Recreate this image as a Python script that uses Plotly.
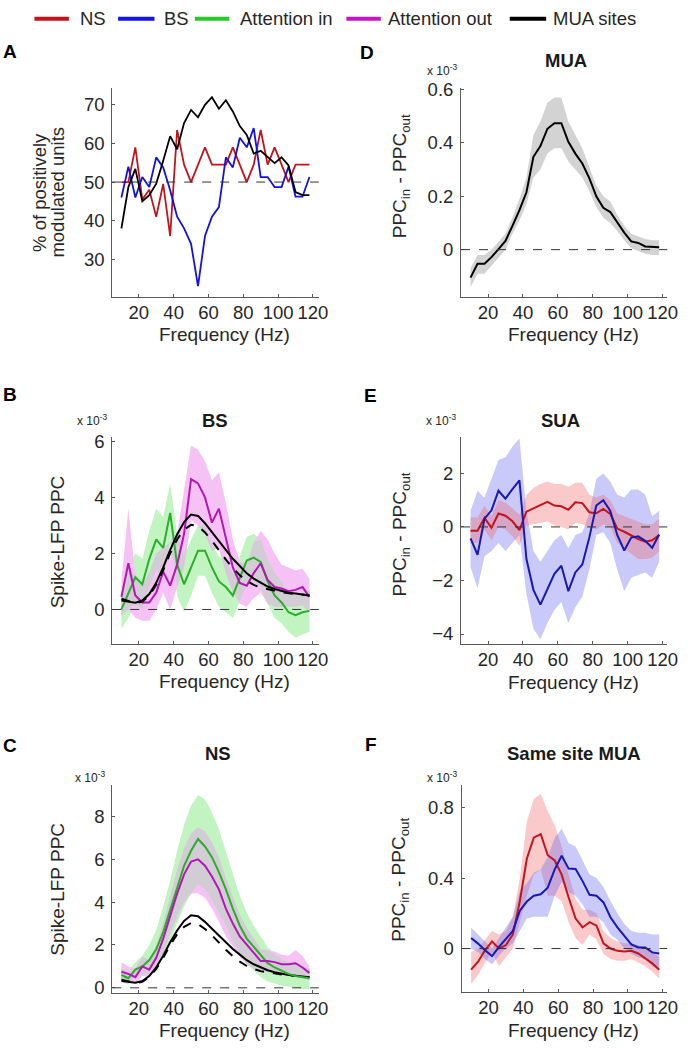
import plotly.graph_objects as go

W, H = 691, 1049
FONT = "Liberation Sans, Arial, sans-serif"

# ---------------- data ----------------
freq = [10, 14, 18, 22, 26, 30, 34, 38, 42, 46, 50, 54, 58, 62, 66, 70, 74, 78,
        82, 86, 90, 94, 98, 102, 106, 110, 114, 118]

# Panel A: % of positively modulated units
a_ns = [50, 50, 59, 45.5, 48, 41, 49.5, 36, 63.5, 54.5, 50, 54.5, 59, 54.5, 54.5, 54.5,
        59, 54.5, 50, 54.5, 63.5, 54.5, 59, 54.5, 50, 54.5, 54.5, 54.5]
a_bs = [46, 54, 46, 51.3, 48.7, 56.4, 53.8, 47.9, 41, 38, 34, 23, 36, 41, 43.5, 56.4,
        53.8, 61.5, 59, 64, 51.3, 51.3, 48.7, 48.7, 54, 46.2, 46.2, 51.3]
a_mua = [38, 48.7, 53.4, 45, 46.6, 49.6, 55.5, 61.9, 58.5, 65.3, 68.7, 66.8, 70, 72, 69,
         71.2, 68.3, 64.5, 62.2, 57.4, 58.1, 56.5, 54.9, 56.4, 54.3, 47.4, 46.6, 46.6]

# MUA-site PPC (x 10^-3), shown in B and C
mua_in = [0.32, 0.27, 0.24, 0.32, 0.55, 0.95, 1.5, 2.13, 2.68, 3.12, 3.39, 3.34, 3.08, 2.76,
          2.44, 2.13, 1.81, 1.55, 1.29, 1.1, 0.95, 0.82, 0.73, 0.66, 0.6, 0.57, 0.54, 0.5]
mua_out = [0.38, 0.3, 0.22, 0.28, 0.5, 0.88, 1.4, 2.0, 2.5, 2.85, 3.02, 2.98, 2.75, 2.45,
           2.1, 1.78, 1.48, 1.22, 1.02, 0.88, 0.78, 0.72, 0.67, 0.62, 0.58, 0.55, 0.52, 0.5]

# Panel B: BS spike-LFP PPC (x 10^-3)
b_in = [0.0, 0.6, 1.15, 0.9, 1.8, 2.5, 2.2, 3.45, 1.6, 0.9, 1.5, 2.1, 2.1, 1.5, 1.0, 0.8,
        0.5, 1.1, 1.75, 1.85, 1.7, 1.0, 0.5, 0.25, -0.1, -0.2, -0.1, -0.05]
b_in_up = [0.6, 1.5, 2.0, 1.8, 2.8, 3.6, 3.3, 4.5, 2.7, 1.9, 2.5, 3.0, 3.0, 2.3, 1.9, 1.7,
           1.3, 1.9, 2.6, 2.7, 2.5, 1.8, 1.3, 1.0, 0.6, 0.5, 0.6, 0.7]
b_in_lo = [-0.7, -0.3, 0.2, 0.0, 0.8, 1.4, 1.1, 2.4, 0.5, -0.1, 0.5, 1.2, 1.2, 0.6, 0.1, -0.1,
           -0.3, 0.3, 0.9, 1.0, 0.8, 0.2, -0.3, -0.5, -0.8, -1.0, -0.9, -0.8]
b_out = [0.45, 1.65, 0.5, 0.25, 0.25, 0.6, 1.35, 0.85, 1.6, 2.7, 4.65, 4.5, 4.0, 3.1, 3.6,
         2.6, 1.5, 0.95, 0.85, 1.3, 1.65, 1.05, 0.8, 0.75, 0.65, 0.7, 0.8, 0.45]
b_out_up = [1.0, 3.6, 1.2, 0.9, 1.3, 2.0, 2.2, 1.8, 2.7, 4.3, 5.85, 5.7, 5.3, 4.6, 4.9, 3.8,
            2.5, 1.7, 1.6, 2.4, 2.8, 2.5, 2.0, 1.6, 1.5, 1.4, 1.45, 1.1]
b_out_lo = [-0.2, 0.0, -0.3, -0.4, -0.4, 0.0, 0.6, 0.0, 0.8, 1.5, 3.2, 3.0, 2.7, 2.1, 2.2,
            1.3, 0.6, 0.2, 0.1, 0.4, 0.6, 0.2, 0.1, 0.1, 0.1, 0.1, 0.15, -0.1]

# Panel C: NS spike-LFP PPC (x 10^-3)
c_in = [0.6, 0.45, 0.85, 1.0, 1.3, 1.8, 2.6, 3.6, 4.7, 5.7, 6.4, 6.95, 6.6, 6.1, 5.4, 4.6,
        3.7, 2.9, 2.3, 1.9, 1.5, 1.15, 0.95, 0.8, 0.65, 0.55, 0.5, 0.45]
c_in_up = [0.9, 0.8, 1.2, 1.5, 2.0, 2.7, 3.8, 5.0, 6.4, 7.6, 8.5, 9.0, 8.8, 8.2, 7.4, 6.4,
           5.3, 4.3, 3.5, 2.9, 2.4, 1.9, 1.6, 1.35, 1.2, 1.1, 1.0, 0.9]
c_in_lo = [0.3, 0.15, 0.5, 0.6, 0.7, 1.0, 1.5, 2.2, 3.0, 3.8, 4.4, 4.85, 4.6, 4.1, 3.5, 2.9,
           2.2, 1.6, 1.1, 0.8, 0.5, 0.3, 0.2, 0.1, 0.05, 0.0, -0.05, -0.05]
c_out = [0.75, 0.65, 0.5, 1.0, 0.85, 1.4, 2.3, 3.4, 4.4, 5.3, 5.9, 6.0, 5.7, 5.2, 4.6, 3.7,
         3.0, 2.4, 2.0, 1.6, 1.25, 1.25, 1.2, 1.1, 1.1, 1.15, 0.95, 0.7]
c_out_up = [1.2, 1.0, 0.9, 1.45, 1.3, 2.0, 3.0, 4.3, 5.5, 6.5, 7.2, 7.5, 7.3, 6.8, 6.1, 5.1,
            4.2, 3.4, 2.8, 2.3, 1.8, 1.75, 1.7, 1.55, 1.5, 1.75, 1.5, 1.0]
c_out_lo = [0.4, 0.3, 0.2, 0.55, 0.5, 0.9, 1.6, 2.5, 3.3, 4.0, 4.4, 4.4, 4.2, 3.7, 3.1, 2.4,
            1.9, 1.45, 1.1, 0.9, 0.7, 0.75, 0.7, 0.65, 0.7, 0.65, 0.45, 0.35]

# Panel D: MUA PPC_in - PPC_out (x 10^-3)
d_mua = [-0.105, -0.053, -0.053, -0.028, 0.002, 0.033, 0.089, 0.148, 0.215, 0.348, 0.388,
         0.453, 0.474, 0.474, 0.404, 0.36, 0.323, 0.268, 0.2, 0.157, 0.141, 0.101, 0.064,
         0.031, 0.025, 0.012, 0.01, 0.009]
d_up = [-0.07, -0.02, -0.02, 0.0, 0.03, 0.06, 0.12, 0.19, 0.27, 0.43, 0.48, 0.55, 0.57,
        0.57, 0.48, 0.43, 0.38, 0.31, 0.24, 0.2, 0.18, 0.13, 0.09, 0.06, 0.05, 0.04, 0.035, 0.035]
d_lo = [-0.14, -0.09, -0.09, -0.06, -0.03, 0.0, 0.06, 0.11, 0.17, 0.27, 0.3, 0.36, 0.38,
        0.38, 0.33, 0.3, 0.27, 0.22, 0.16, 0.12, 0.1, 0.07, 0.035, 0.005, -0.005, -0.015,
        -0.02, -0.02]

# Panel E: SUA PPC_in - PPC_out (x 10^-3)
e_ns = [-0.14, -0.14, 0.34, -0.03, 0.5, 0.42, 0.21, -0.12, 0.57, 0.7, 0.82, 0.94, 0.8,
        0.77, 0.64, 0.92, 0.89, 0.55, 0.51, 0.67, 0.49, -0.06, -0.18, -0.33, -0.45, -0.55,
        -0.5, -0.3]
e_ns_up = [0.35, 0.35, 0.8, 0.4, 1.0, 0.9, 0.7, 0.45, 1.2, 1.45, 1.6, 1.7, 1.6, 1.6, 1.5,
           1.65, 1.65, 1.2, 1.1, 1.2, 1.0, 0.5, 0.4, 0.3, 0.2, 0.1, 0.1, 0.3]
e_ns_lo = [-0.6, -0.6, -0.1, -0.5, 0.0, -0.1, -0.35, -0.7, 0.05, 0.1, 0.15, 0.2, 0.05, 0.0,
           -0.1, 0.15, 0.1, 0.0, -0.1, 0.1, 0.0, -0.6, -0.8, -1.0, -1.2, -1.2, -1.15, -0.9]
e_bs = [-0.43, -1.04, 0.31, 0.62, 1.35, 1.06, 1.41, 1.74, -1.2, -2.35, -2.9, -2.3, -1.75,
        -1.45, -2.4, -1.7, -1.4, -0.4, 0.8, 1.0, 0.6, -0.3, -0.88, -0.4, -0.35, -0.52,
        -0.78, -0.28]
e_bs_up = [0.6, 1.35, 1.1, 1.8, 2.5, 2.6, 3.0, 3.3, 0.6, -0.9, -1.3, -0.9, -0.5, -0.3,
           -0.8, -0.3, -0.2, 0.5, 1.8, 2.0, 1.7, 1.2, 1.1, 1.4, 1.4, 1.2, 0.4, 0.6]
e_bs_lo = [-1.5, -2.3, -1.1, -0.9, -0.6, -0.9, -0.6, -0.3, -2.5, -3.8, -4.2, -3.6, -3.1,
           -2.8, -3.6, -3.0, -2.6, -1.6, -0.3, -0.2, -0.6, -1.6, -2.4, -1.9, -1.8, -1.7,
           -1.9, -1.3]

# Panel F: same-site MUA PPC_in - PPC_out (x 10^-3)
f_ns = [-0.12, -0.075, -0.01, 0.04, 0.0, 0.02, 0.08, 0.27, 0.51, 0.63, 0.65, 0.53, 0.5,
        0.42, 0.29, 0.17, 0.12, 0.15, 0.13, 0.03, 0.0, -0.013, -0.017, -0.013, -0.028,
        -0.056, -0.084, -0.12]
f_ns_up = [-0.02, 0.0, 0.05, 0.1, 0.08, 0.1, 0.18, 0.4, 0.72, 0.85, 0.88, 0.78, 0.7, 0.58,
           0.42, 0.28, 0.22, 0.22, 0.2, 0.1, 0.06, 0.04, 0.03, 0.03, 0.02, 0.0, -0.02, -0.05]
f_ns_lo = [-0.2, -0.15, -0.08, -0.02, -0.1, -0.05, 0.0, 0.15, 0.3, 0.42, 0.45, 0.3, 0.3,
           0.27, 0.15, 0.06, 0.02, 0.08, 0.05, -0.03, -0.06, -0.07, -0.07, -0.06, -0.08,
           -0.1, -0.13, -0.17]
f_bs = [0.06, 0.028, -0.01, -0.043, 0.01, 0.056, 0.1, 0.215, 0.267, 0.3, 0.308, 0.346,
        0.45, 0.527, 0.454, 0.452, 0.383, 0.305, 0.3, 0.262, 0.178, 0.12, 0.07, 0.024,
        0.006, 0.006, -0.022, -0.028]
f_bs_up = [0.12, 0.08, 0.04, 0.0, 0.06, 0.12, 0.18, 0.33, 0.37, 0.43, 0.45, 0.52, 0.63,
           0.68, 0.6, 0.58, 0.5, 0.42, 0.4, 0.35, 0.27, 0.2, 0.14, 0.1, 0.09, 0.09, 0.08, 0.08]
f_bs_lo = [0.0, -0.02, -0.06, -0.09, -0.04, 0.0, 0.03, 0.1, 0.17, 0.18, 0.18, 0.18, 0.3,
           0.38, 0.32, 0.3, 0.25, 0.18, 0.18, 0.15, 0.08, 0.05, 0.0, -0.03, -0.05, -0.06,
           -0.1, -0.12]

freq_ticks = [20, 40, 60, 80, 100, 120]
legend_names = ["NS", "BS", "Attention in", "Attention out", "MUA sites"]

# ---------------- styling ----------------
RED = "#c3141c"
BLUE_A = "#1010f0"
BLUE = "#1818b4"
GREEN = "#2aae2a"
MAG = "#b416b4"
LEG_COLORS = ["#c3141c", "#1414e6", "#2ac82a", "#c814c8", "#000000"]
AXC = "#5a5a5a"
TXT = "#262626"


def px(p):
    return p / W


def py(p):
    return 1 - p / H


fig = go.Figure()

panels = {
    1: ((114, 324), (80, 291.5), [4.7, 123.4], [20.3, 74.4], [30, 40, 50, 60, 70], 50),
    2: ((114, 324), (434, 643.5), [4.7, 123.4], [-1.23, 6.15], [0, 2, 4, 6], 0),
    3: ((114, 324), (786.5, 997.5), [4.7, 123.4], [-0.25, 9.47], [0, 2, 4, 6, 8], 0),
    4: ((468.5, 678), (80, 291.5), [4.56, 122.6], [-0.176, 0.606], [0, 0.2, 0.4, 0.6], 0),
    5: ((468.5, 678), (433.5, 643.5), [4.56, 122.6], [-4.37, 3.37], [-4, -2, 0, 2], 0),
    6: ((469, 678), (786.5, 996.5), [4.5, 122.6], [-0.248, 0.929], [0, 0.4, 0.8], 0),
}

layout_axes = {}
shapes = []
for i, (xd, yd, xr, yr, yt, ref) in panels.items():
    xn = "xaxis" if i == 1 else f"xaxis{i}"
    yn = "yaxis" if i == 1 else f"yaxis{i}"
    xs = "x" if i == 1 else f"x{i}"
    ys = "y" if i == 1 else f"y{i}"
    common = dict(showline=True, linecolor=AXC, linewidth=1, ticks="inside", ticklen=3,
                  tickcolor=AXC, showgrid=False, zeroline=False, fixedrange=True,
                  tickfont=dict(size=18.5, color=TXT, family=FONT))
    layout_axes[xn] = dict(domain=[px(xd[0]), px(xd[1])], range=xr, anchor=ys,
                           tickvals=freq_ticks, ticklabelstandoff=-1, **common)
    layout_axes[yn] = dict(domain=[py(yd[1]), py(yd[0])], range=yr, anchor=xs,
                           tickvals=yt, ticklabelstandoff=3, **common)
    shapes.append(dict(type="line", xref=f"{xs} domain", yref=ys, x0=0, x1=1, y0=ref, y1=ref,
                       layer="above", line=dict(color="#333333", width=1, dash="dash")))


def band(i, lo, up, color):
    xs = "x" if i == 1 else f"x{i}"
    ys = "y" if i == 1 else f"y{i}"
    fig.add_trace(go.Scatter(x=freq + freq[::-1], y=list(up) + list(lo)[::-1], fill="toself",
                             fillcolor=color, line=dict(width=0), mode="lines",
                             xaxis=xs, yaxis=ys, hoverinfo="skip", showlegend=False))


def line(i, vals, color, width=2, dash="solid"):
    xs = "x" if i == 1 else f"x{i}"
    ys = "y" if i == 1 else f"y{i}"
    fig.add_trace(go.Scatter(x=freq, y=vals, mode="lines",
                             line=dict(color=color, width=width, dash=dash),
                             xaxis=xs, yaxis=ys, showlegend=False))


def overlap(lo1, up1, lo2, up2):
    lo = [max(a, b) for a, b in zip(lo1, lo2)]
    up = [max(min(a, b), l) for a, b, l in zip(up1, up2, lo)]
    return lo, up


G_BAND = "#c2f4c2"
M_BAND = "#f6c2f6"
O_BAND = "#d2cdd4"

# Panel A
line(1, a_ns, RED, 1.8)
line(1, a_bs, BLUE_A, 1.8)
line(1, a_mua, "#000000", 1.8)

# Panel B
band(2, b_in_lo, b_in_up, G_BAND)
band(2, b_out_lo, b_out_up, M_BAND)
olo, oup = overlap(b_in_lo, b_in_up, b_out_lo, b_out_up)
band(2, olo, oup, O_BAND)
line(2, b_in, GREEN)
line(2, b_out, MAG)
line(2, mua_in, "#000000")
line(2, mua_out, "#000000", 2, "dash")

# Panel C
band(3, c_in_lo, c_in_up, G_BAND)
band(3, c_out_lo, c_out_up, M_BAND)
olo, oup = overlap(c_in_lo, c_in_up, c_out_lo, c_out_up)
band(3, olo, oup, O_BAND)
line(3, mua_in, "#000000")
line(3, mua_out, "#000000", 2, "dash")
line(3, c_in, GREEN)
line(3, c_out, MAG)

# Panel D
band(4, d_lo, d_up, "#d3d3d3")
line(4, d_mua, "#000000")

# Panel E
band(5, e_bs_lo, e_bs_up, "rgba(100,100,240,0.35)")
band(5, e_ns_lo, e_ns_up, "rgba(240,100,100,0.35)")
line(5, e_ns, RED)
line(5, e_bs, BLUE)

# Panel F
band(6, f_ns_lo, f_ns_up, "rgba(240,100,100,0.35)")
band(6, f_bs_lo, f_bs_up, "rgba(100,100,240,0.35)")
line(6, f_ns, RED)
line(6, f_bs, BLUE)

# ---------------- annotations ----------------
ann = []


def text(x, y, s, size=18.5, bold=False, angle=0, xanchor="center", yanchor="middle", color=TXT):
    ann.append(dict(x=px(x), y=py(y), xref="paper", yref="paper", text=f"<b>{s}</b>" if bold else s,
                    showarrow=False, textangle=angle, xanchor=xanchor, yanchor=yanchor,
                    font=dict(size=size, color=color, family=FONT)))


for letter, x, y in [("A", 10, 43.5), ("D", 373, 44), ("B", 10.5, 390.5), ("E", 377, 391.5),
                     ("C", 10.5, 746.5), ("F", 376.5, 745.5)]:
    text(x, y, letter, size=19, bold=True, color="#000000")

for s, x, y in [("MUA", 575, 52), ("BS", 218, 417), ("SUA", 570, 417), ("NS", 222, 755),
                ("Same site MUA", 583, 755)]:
    text(x, y, s, size=18.5, bold=True, color="#1a1a1a")

for x, y in [(228, 330), (228, 682), (228, 1035), (583, 330), (583, 683), (583, 1035)]:
    text(x, y, "Frequency (Hz)", size=19)

text(40, 186, "% of positively", size=18.5, angle=-90)
text(58, 186, "modulated units", size=18.5, angle=-90)
text(58.5, 540, "Spike-LFP PPC", size=19, angle=-90)
text(58.5, 892, "Spike-LFP PPC", size=19, angle=-90)
for y in [170, 533, 883]:
    text(407, y, "PPC<sub>in</sub> - PPC<sub>out</sub>", size=19, angle=-90)

for x, y in [(432, 62), (76, 417), (431, 417), (74, 778), (432, 778)]:
    text(x, y, "x 10<sup>-3</sup>", size=12, xanchor="left")

leg_pos = [(35, 70, 79), (120, 157, 165), (198, 233, 242), (352, 387, 392), (518, 555, 560)]
for name, col, (x0, x1, tx) in zip(legend_names, LEG_COLORS, leg_pos):
    shapes.append(dict(type="line", xref="paper", yref="paper", x0=px(x0), x1=px(x1),
                       y0=py(10), y1=py(10), line=dict(color=col, width=4)))
    text(tx, 10, name, xanchor="left")

fig.update_layout(
    width=W, height=H, autosize=False,
    margin=dict(l=0, r=0, t=0, b=0),
    paper_bgcolor="white", plot_bgcolor="white",
    font=dict(family=FONT, color=TXT),
    showlegend=False,
    shapes=shapes,
    annotations=ann,
    **layout_axes,
)

fig.write_html("out.html", config={"displayModeBar": False, "staticPlot": True},
               post_script="document.body.style.margin='0px';document.body.style.overflow='hidden';")
